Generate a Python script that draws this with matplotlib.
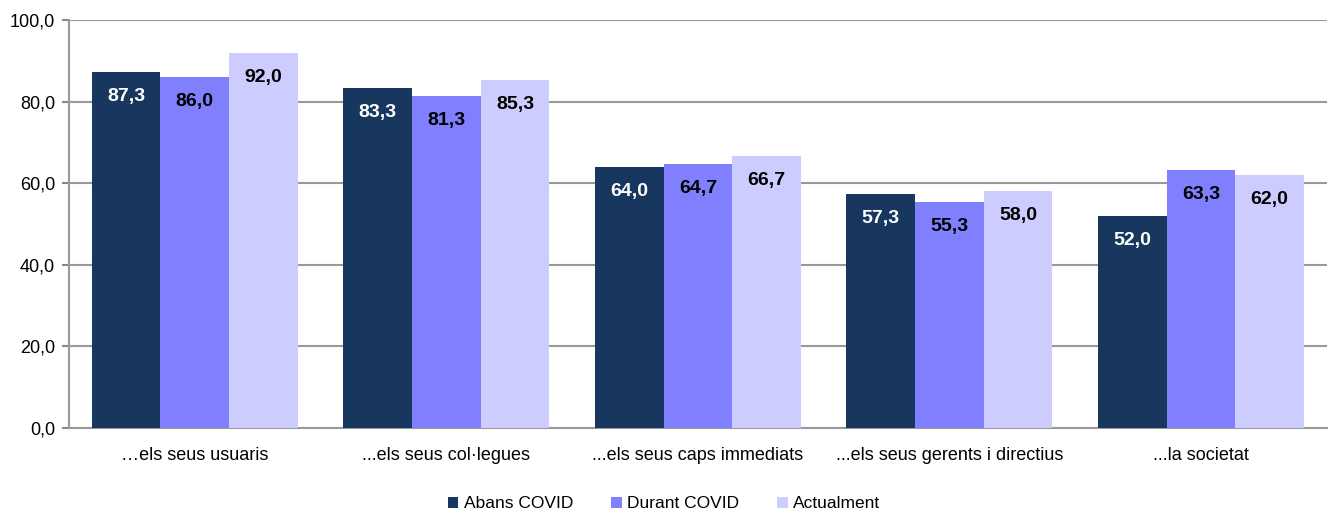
import matplotlib
matplotlib.use('Agg')
import matplotlib.pyplot as plt
import numpy as np

plt.rcParams['font.family'] = ['Liberation Sans', 'DejaVu Sans']

categories = ['…els seus usuaris', '...els seus col·legues', '...els seus caps immediats',
              '...els seus gerents i directius', '...la societat']
series_names = ['Abans COVID', 'Durant COVID', 'Actualment']
abans = [87.3, 83.3, 64.0, 57.3, 52.0]
durant = [86.0, 81.3, 64.7, 55.3, 63.3]
actual = [92.0, 85.3, 66.7, 58.0, 62.0]
colors = ['#17375E', '#8080FF', '#CCCCFF']
label_colors = ['white', 'black', 'black']

fig = plt.figure(figsize=(13.28, 5.13), dpi=100)
ax = fig.add_axes([0.052, 0.166, 0.947, 0.795])

x = np.arange(len(categories))
w = 0.273
for i, (vals, name) in enumerate(zip([abans, durant, actual], series_names)):
    pos = x + (i - 1) * w
    ax.bar(pos, vals, w, color=colors[i], label=name, zorder=3)
    for p, v in zip(pos, vals):
        ax.text(p, v - 6, f'{v:.1f}'.replace('.', ','), ha='center', va='center',
                fontsize=14, fontweight='bold', color=label_colors[i], zorder=4)

ax.set_xlim(-0.5, len(categories) - 0.5)
ax.set_ylim(0, 100)
ax.set_yticks(np.arange(0, 101, 20))
ax.set_yticklabels([f'{t:.1f}'.replace('.', ',') for t in np.arange(0, 101, 20)], fontsize=13)
ax.set_xticks(x)
ax.set_xticklabels(categories, fontsize=13)
ax.tick_params(axis='x', length=0, pad=14)
ax.tick_params(axis='y', length=5, color='#888888', width=1.5, pad=5)
ax.grid(axis='y', color='#999999', linewidth=1.5, zorder=0)
for s in ['top', 'right']:
    ax.spines[s].set_visible(False)
for s in ['left', 'bottom']:
    ax.spines[s].set_color('#999999')
    ax.spines[s].set_linewidth(1.5)

fig.legend(loc='center', bbox_to_anchor=(0.5, 0.018), ncol=3, frameon=False, fontsize=12.5,
           handlelength=0.6, handleheight=0.6, handletextpad=0.3, columnspacing=2.2)

fig.savefig('out.png', dpi=100)
